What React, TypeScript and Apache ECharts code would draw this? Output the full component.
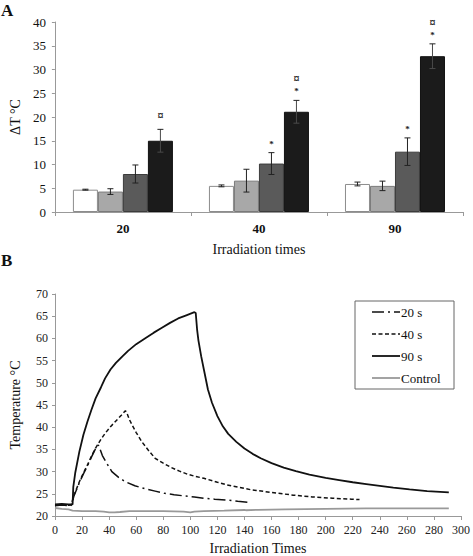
import React, { useEffect, useRef } from "react";
import * as echarts from "echarts";

// ---------- Panel A data ----------
const categories = ["20", "40", "90"];
const barSeriesNames = ["Group 1", "Group 2", "Group 3", "Group 4"];
const whiteVals = [4.7, 5.5, 5.9];
const whiteErr = [0.1, 0.2, 0.4];
const lightVals = [4.3, 6.6, 5.5];
const lightErr = [0.6, 2.4, 1.0];
const darkVals = [8.0, 10.2, 12.7];
const darkErr = [1.9, 2.3, 2.9];
const blackVals = [15.0, 21.1, 32.8];
const blackErr = [2.4, 2.4, 2.6];
const whiteMarks: string[][] = [[], [], []];
const lightMarks: string[][] = [[], [], []];
const darkMarks: string[][] = [[], ["*"], ["*"]];
const blackMarks: string[][] = [["¤"], ["*", "¤"], ["*", "¤"]];
const yTicksA = [0, 40, 5]; // min, max, interval

// ---------- Panel B data ([time s, temperature °C]) ----------
const curve20: number[][] = [
  [0, 22.3], [5, 22.5], [10, 22.3], [12, 22.4], [14, 24.5], [18, 27.5], [21, 29.5],
  [24, 31.3], [27, 33.3], [30, 35.2], [32, 36.0], [33, 35.3], [35, 33.6], [38, 32.0],
  [42, 30.0], [47, 28.7], [52, 27.7], [59, 26.8], [67, 26.1], [74, 25.6], [81, 25.1],
  [88, 24.8], [96, 24.5], [103, 24.3], [110, 24.0], [118, 23.8], [127, 23.6],
  [135, 23.3], [143, 23.1],
];
const curve40: number[][] = [
  [0, 22.4], [5, 22.6], [10, 22.4], [12, 22.5], [14, 24.7], [18, 27.7], [21, 29.7],
  [24, 31.5], [27, 33.5], [30, 35.3], [34, 37.3], [37, 38.6], [41, 40.1], [45, 41.4],
  [49, 42.7], [52, 43.7], [53, 43.3], [55, 41.7], [57, 40.5], [60, 38.8], [64, 36.8],
  [69, 34.8], [74, 33.0], [80, 31.9], [86, 30.9], [92, 30.1], [98, 29.4], [104, 28.9],
  [110, 28.5], [120, 27.6], [127, 27.0], [135, 26.5], [145, 25.9], [160, 25.3],
  [176, 24.7], [190, 24.3], [205, 24.0], [219, 23.8], [225, 23.7],
];
const curve90: number[][] = [
  [0, 22.6], [5, 22.7], [10, 22.6], [13, 22.6], [13.5, 26.5], [15, 29.8], [18, 34.5],
  [21, 38.3], [24, 41.3], [27, 44.0], [30, 46.5], [34, 49.0], [37, 51.0], [41, 53.0],
  [45, 54.5], [50, 56.0], [54, 57.2], [60, 58.7], [67, 60.1], [73, 61.3], [79, 62.4],
  [85, 63.5], [91, 64.5], [97, 65.2], [103, 65.9], [104, 65.7], [105, 62.0],
  [106, 59.5], [108, 56.0], [110, 53.0], [113, 48.5], [116, 45.5], [120, 42.5],
  [124, 40.2], [128, 38.5], [134, 36.7], [140, 35.2], [146, 34.0], [152, 33.0],
  [160, 31.9], [169, 30.9], [178, 30.1], [188, 29.3], [200, 28.6], [210, 28.1],
  [220, 27.6], [230, 27.2], [240, 26.8], [250, 26.4], [262, 26.0], [275, 25.6],
  [291, 25.3],
];
const curveControl: number[][] = [
  [0, 21.8], [5, 21.6], [10, 21.5], [13, 21.2], [20, 21.1], [30, 21.1], [36, 21.0],
  [40, 20.8], [44, 20.8], [48, 20.9], [55, 21.1], [65, 21.1], [80, 21.1], [95, 21.0],
  [100, 20.8], [103, 21.0], [110, 21.1], [125, 21.2], [140, 21.35], [141, 21.3],
  [150, 21.4], [170, 21.5], [200, 21.6], [230, 21.7], [260, 21.7], [291, 21.7],
];
const lineNames = ["20 s", "40 s", "90 s", "Control"];

const SERIF = "Liberation Serif";

export default function App() {
  const ref = useRef<HTMLDivElement>(null);

  useEffect(() => {
    if (!ref.current) return;
    const chart = echarts.init(ref.current, undefined, { renderer: "svg" });

    const vals = [whiteVals, lightVals, darkVals, blackVals];
    const errs = [whiteErr, lightErr, darkErr, blackErr];
    const marks = [whiteMarks, lightMarks, darkMarks, blackMarks];
    const fills = ["#ffffff", "#a8a8a8", "#5a5a5a", "#1b1b1b"];
    const borders = ["#8c8c8c", "#7a7a7a", "#3c3c3c", "#111111"];
    const barW = 25;

    const errData: number[][] = [];
    for (let si = 0; si < 4; si++) {
      for (let ci = 0; ci < categories.length; ci++) {
        errData.push([ci, si, vals[si][ci], errs[si][ci]]);
      }
    }

    const barSeries = barSeriesNames.map((name, si) => ({
      name,
      type: "bar",
      xAxisIndex: 0,
      yAxisIndex: 0,
      data: vals[si],
      barWidth: barW,
      barGap: "0%",
      itemStyle: { color: fills[si], borderColor: borders[si], borderWidth: 1 },
      z: 2,
    }));

    const errSeries = {
      type: "custom",
      xAxisIndex: 0,
      yAxisIndex: 0,
      data: errData,
      encode: { x: 0, y: 2 },
      z: 5,
      renderItem: (params: any, api: any) => {
        const ci = api.value(0);
        const si = api.value(1);
        const m = api.value(2);
        const e = api.value(3);
        const c = api.coord([ci, m]);
        const x = c[0] + (si - 1.5) * barW;
        const yT = api.coord([ci, m + e])[1];
        const yB = api.coord([ci, m - e])[1];
        const col = si === 3 ? "#4a4a4a" : "#222222";
        const children: any[] = [
          { type: "line", shape: { x1: x, y1: yT, x2: x, y2: yB }, style: { stroke: col, lineWidth: 1 } },
          { type: "line", shape: { x1: x - 3, y1: yT, x2: x + 3, y2: yT }, style: { stroke: "#222", lineWidth: 1 } },
          { type: "line", shape: { x1: x - 3, y1: yB, x2: x + 3, y2: yB }, style: { stroke: col, lineWidth: 1 } },
        ];
        const ms = marks[si][ci];
        ms.forEach((t: string, k: number) => {
          const isCur = t === "¤";
          children.push({
            type: "text",
            style: {
              text: t,
              x,
              y: yT - (ms.length === 1 && isCur ? 13 : 9) - 12 * k,
              align: "center",
              verticalAlign: "middle",
              fontSize: isCur ? 12 : 9,
              lineHeight: isCur ? 9 : 7,
              fontFamily: SERIF,
              fontWeight: "bold",
              fill: "#222",
            },
          });
        });
        return { type: "group", children };
      },
    };

    const lineStyles: any[] = [
      { color: "#111", width: 1.5, type: [12, 4, 2, 4] },
      { color: "#111", width: 1.5, type: [4, 2.5] },
      { color: "#111", width: 1.8, type: "solid" },
      { color: "#999", width: 1.8, type: "solid" },
    ];
    const curves = [curve20, curve40, curve90, curveControl];
    const lineSeries = lineNames.map((name, i) => ({
      name,
      type: "line",
      xAxisIndex: 1,
      yAxisIndex: 1,
      data: curves[i],
      symbol: "none",
      showSymbol: false,
      lineStyle: lineStyles[i],
      itemStyle: { color: lineStyles[i].color },
      z: 3 + (i === 3 ? 0 : 1),
    }));

    // manual legend (box, line samples, labels)
    const legendX = 355, legendY = 301, legendW = 99, legendH = 88;
    const legendGraphics: any[] = [
      {
        type: "rect",
        shape: { x: legendX, y: legendY, width: legendW, height: legendH },
        style: { fill: "#fff", stroke: "#666", lineWidth: 1 },
        z: 10,
      },
    ];
    lineNames.forEach((name, i) => {
      const cy = legendY + 11 + i * 22;
      legendGraphics.push({
        type: "line",
        shape: { x1: legendX + 17, y1: cy, x2: legendX + 45, y2: cy },
        style: {
          stroke: lineStyles[i].color,
          lineWidth: lineStyles[i].width,
          lineDash: Array.isArray(lineStyles[i].type) ? lineStyles[i].type : null,
        },
        z: 11,
      });
      legendGraphics.push({
        type: "text",
        x: legendX + 46,
        y: cy,
        style: {
          text: name,
          fontFamily: SERIF,
          fontSize: 13,
          fill: "#111",
          align: "left",
          verticalAlign: "middle",
        },
        z: 11,
      });
    });

    const axisLabelA = { fontFamily: SERIF, fontSize: 13, color: "#111" };
    const axisLabelB = { fontFamily: SERIF, fontSize: 12, color: "#222" };

    chart.setOption({
      animation: false,
      backgroundColor: "#ffffff",
      grid: [
        { left: 53, top: 22, width: 410, height: 190 },
        { left: 54, top: 294, width: 409, height: 222 },
      ],
      xAxis: [
        {
          type: "category",
          gridIndex: 0,
          data: categories,
          axisLine: { lineStyle: { color: "#999", width: 1 } },
          axisTick: { show: true, length: 4, lineStyle: { color: "#999" } },
          axisLabel: { ...axisLabelA, fontSize: 13, fontWeight: "bold", margin: 10 },
          name: "Irradiation times",
          nameLocation: "middle",
          nameGap: 30,
          nameTextStyle: { fontFamily: SERIF, fontSize: 14, color: "#111" },
        },
        {
          type: "value",
          gridIndex: 1,
          min: 0,
          max: 300,
          interval: 20,
          splitLine: { show: false },
          axisLine: { lineStyle: { color: "#999", width: 1 } },
          axisTick: { show: true, length: 4, lineStyle: { color: "#999" } },
          axisLabel: { ...axisLabelB, margin: 8 },
          name: "Irradiation Times",
          nameLocation: "middle",
          nameGap: 25,
          nameTextStyle: { fontFamily: SERIF, fontSize: 14, color: "#111" },
        },
      ],
      yAxis: [
        {
          type: "value",
          gridIndex: 0,
          min: yTicksA[0],
          max: yTicksA[1],
          interval: yTicksA[2],
          splitLine: { show: false },
          axisLine: { show: true, lineStyle: { color: "#999", width: 1 } },
          axisTick: { show: true, length: 3, lineStyle: { color: "#999" } },
          axisLabel: { ...axisLabelA, margin: 9 },
          name: "ΔT °C",
          nameLocation: "middle",
          nameGap: 26,
          nameTextStyle: { fontFamily: SERIF, fontSize: 14, color: "#111" },
        },
        {
          type: "value",
          gridIndex: 1,
          min: 20,
          max: 70,
          interval: 5,
          splitLine: { show: false },
          axisLine: { show: true, lineStyle: { color: "#999", width: 1 } },
          axisTick: { show: true, length: 3, lineStyle: { color: "#999" } },
          axisLabel: { ...axisLabelB, margin: 7 },
          name: "Temperature °C",
          nameLocation: "middle",
          nameGap: 33,
          nameTextStyle: { fontFamily: SERIF, fontSize: 14, color: "#111" },
        },
      ],
      graphic: [
        { type: "text", left: 1, top: 2, style: { text: "A", fontFamily: SERIF, fontSize: 17, fontWeight: "bold", fill: "#111" } },
        { type: "text", left: 1, top: 252, style: { text: "B", fontFamily: SERIF, fontSize: 17, fontWeight: "bold", fill: "#111" } },
        ...legendGraphics,
      ],
      series: [...barSeries, errSeries, ...lineSeries],
    });

    return () => chart.dispose();
  }, []);

  return (
    <div
      ref={ref}
      style={{ position: "fixed", left: 0, top: 0, width: 473, height: 556, background: "#fff" }}
    />
  );
}
